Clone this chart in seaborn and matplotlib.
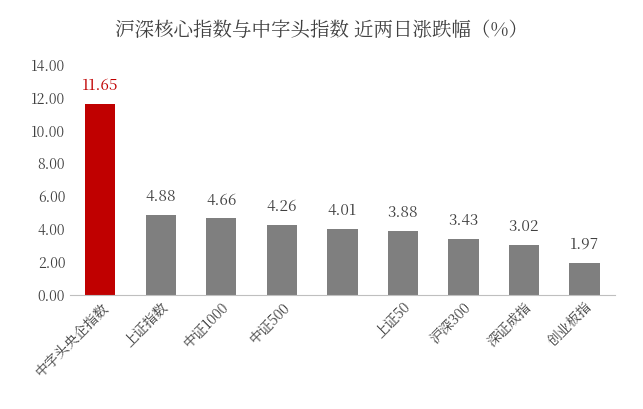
import matplotlib
matplotlib.use("Agg")
import matplotlib.pyplot as plt
from matplotlib import font_manager as fm
import seaborn as sns
import pandas as pd

categories = ["中字头央企指数", "上证指数", "中证1000", "中证500", " ", "上证50", "沪深300", "深证成指", "创业板指"]
values = [11.65, 4.88, 4.66, 4.26, 4.01, 3.88, 3.43, 3.02, 1.97]
colors = ["#C00000"] + ["#7F7F7F"] * 8
yticks = [0, 2, 4, 6, 8, 10, 12, 14]

cjk = None
for f in fm.fontManager.ttflist:
    if "CJK" in f.name and ("SC" in f.name or cjk is None):
        cjk = f.name
        if "SC" in f.name:
            break
if cjk is None:
    import glob
    for p in glob.glob("/usr/share/fonts/**/*CJK*", recursive=True):
        fm.fontManager.addfont(p)
    cjk = "Noto Sans CJK SC"
plt.rcParams["font.family"] = [cjk, "DejaVu Sans"]
df = pd.DataFrame({"cat": categories, "val": values})

fig = plt.figure(figsize=(6.43, 4.09), dpi=100)
ax = fig.add_axes([0.109, 0.279, 0.847, 0.562])
sns.barplot(data=df, x="cat", y="val", hue="cat", palette=colors, legend=False, width=0.5, saturation=1, ax=ax)
ax.set_ylim(0, 14)
ax.set_yticks(yticks)
ax.set_yticklabels([f"{t:.2f}" for t in yticks], fontsize=10, color="#404040")
ax.set_xlabel(""); ax.set_ylabel("")
ax.set_xticks(range(len(categories)))
ax.set_xticklabels(categories, rotation=45, ha="right", rotation_mode="anchor", fontsize=10, color="#404040")
ax.tick_params(length=0)
for s in ["top", "right", "left"]:
    ax.spines[s].set_visible(False)
ax.spines["bottom"].set_color("#BFBFBF")
for i, v in enumerate(values):
    ax.text(i, v + 0.6, f"{v:.2f}", ha="center", va="bottom", fontsize=11,
            color="#C00000" if i == 0 else "#404040")
fig.suptitle("沪深核心指数与中字头指数 近两日涨跌幅（%）", y=0.95, fontsize=14, color="#404040")
fig.savefig("out.png", dpi=100)
